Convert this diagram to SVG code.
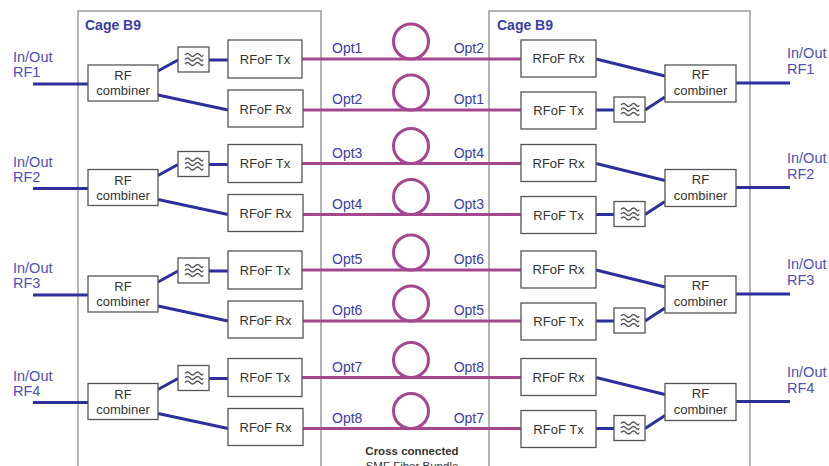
<svg xmlns="http://www.w3.org/2000/svg" xmlns:xlink="http://www.w3.org/1999/xlink" width="829" height="466" viewBox="0 0 829 466">
<style>
.cage{fill:#fff;stroke:#9a9a9a;stroke-width:1.5}
.box{fill:#fff;stroke:#555;stroke-width:1.3}
.t{font-family:"Liberation Sans",Arial,sans-serif;font-size:13px;fill:#333;text-anchor:middle}
.cg{font-family:"Liberation Sans",Arial,sans-serif;font-size:14px;font-weight:bold;fill:#3c3ca6}
.io{font-family:"Liberation Sans",Arial,sans-serif;font-size:14.5px;fill:#4f4fb5}
.opt{font-family:"Liberation Sans",Arial,sans-serif;font-size:14px;fill:#3c3ca6}
.optr{font-family:"Liberation Sans",Arial,sans-serif;font-size:14px;fill:#3c3ca6;text-anchor:end}
.rf{stroke:#2e2e9c;stroke-width:3;fill:none}
.fib{stroke:#a4478e;stroke-width:3;fill:none}
.loop{stroke:#a4478e;stroke-width:3;fill:none}
.wave{stroke:#555;stroke-width:1.3;fill:none}
.note{font-family:"Liberation Sans",Arial,sans-serif;font-size:11.5px;font-weight:bold;fill:#333;text-anchor:middle}
.note2{font-family:"Liberation Sans",Arial,sans-serif;font-size:11.5px;fill:#333;text-anchor:middle}
</style>
<defs>
<g id="filt">
<rect class="box" x="0" y="0" width="31" height="25"/>
<path class="wave" d="M7,8 q2.5,-3 5,0 t5,0 t5,0 t3,0"/>
<path class="wave" d="M7,12.5 q2.5,-3 5,0 t5,0 t5,0 t3,0"/>
<path class="wave" d="M7,17 q2.5,-3 5,0 t5,0 t5,0 t3,0"/>
</g>
</defs>
<rect width="829" height="466" fill="#fff"/>
<g id="cage-left"><rect class="cage" x="78" y="11" width="243" height="470"/><text class="cg" x="85" y="30">Cage B9</text></g>
<g id="cage-right"><rect class="cage" x="489" y="11" width="261" height="470"/><text class="cg" x="497" y="30">Cage B9</text></g>

<g id="connectors">
<g transform="translate(0,0)">
<path class="rf" d="M33,84H88 M158,71L178,60 M209,60H228 M158,95L228,110 M596,59L665,76 M596,110H614 M645,110L665,97 M736,83H790"/>
<path class="fib" d="M302,59H521 M303,110H521"/>
<circle class="loop" cx="411" cy="41.5" r="17.5"/><circle class="loop" cx="411" cy="92.5" r="17.5"/>
</g>
<g transform="translate(0,104.5)">
<path class="rf" d="M33,84H88 M158,71L178,60 M209,60H228 M158,95L228,110 M596,59L665,76 M596,110H614 M645,110L665,97 M736,83H790"/>
<path class="fib" d="M302,59H521 M303,110H521"/>
<circle class="loop" cx="411" cy="41.5" r="17.5"/><circle class="loop" cx="411" cy="92.5" r="17.5"/>
</g>
<g transform="translate(0,211)">
<path class="rf" d="M33,84H88 M158,71L178,60 M209,60H228 M158,95L228,110 M596,59L665,76 M596,110H614 M645,110L665,97 M736,83H790"/>
<path class="fib" d="M302,59H521 M303,110H521"/>
<circle class="loop" cx="411" cy="41.5" r="17.5"/><circle class="loop" cx="411" cy="92.5" r="17.5"/>
</g>
<g transform="translate(0,318.5)">
<path class="rf" d="M33,84H88 M158,71L178,60 M209,60H228 M158,95L228,110 M596,59L665,76 M596,110H614 M645,110L665,97 M736,83H790"/>
<path class="fib" d="M302,59H521 M303,110H521"/>
<circle class="loop" cx="411" cy="41.5" r="17.5"/><circle class="loop" cx="411" cy="92.5" r="17.5"/>
</g>
</g>

<g id="row1">
<g id="io-left-1"><text class="io" x="13" y="62">In/Out</text><text class="io" x="13" y="77">RF1</text></g>
<g id="comb-left-1"><rect class="box" x="88" y="65" width="70" height="36"/><text class="t" x="123" y="80">RF</text><text class="t" x="123" y="95">combiner</text></g>
<g id="filt-left-1"><use xlink:href="#filt" x="178" y="47"/></g>
<g id="tx-left-1"><rect class="box" x="228" y="40" width="74" height="38"/><text class="t" x="265" y="63.5">RFoF Tx</text></g>
<g id="rx-left-1"><rect class="box" x="228" y="90" width="75" height="37"/><text class="t" x="265.5" y="113.5">RFoF Rx</text></g>
<g id="opt-1"><text class="opt" x="332" y="53">Opt1</text><text class="optr" x="484" y="53">Opt2</text><text class="opt" x="332" y="104">Opt2</text><text class="optr" x="484" y="104">Opt1</text></g>
<g id="rx-right-1"><rect class="box" x="521" y="40" width="75" height="37"/><text class="t" x="558.5" y="63">RFoF Rx</text></g>
<g id="tx-right-1"><rect class="box" x="521" y="92" width="75" height="37"/><text class="t" x="558.5" y="115">RFoF Tx</text></g>
<g id="filt-right-1"><use xlink:href="#filt" x="614" y="97"/></g>
<g id="comb-right-1"><rect class="box" x="665" y="65" width="71" height="37"/><text class="t" x="700.5" y="79">RF</text><text class="t" x="700.5" y="95">combiner</text></g>
<g id="io-right-1"><text class="io" x="787" y="58">In/Out</text><text class="io" x="787" y="74">RF1</text></g>
</g>

<g id="row2" transform="translate(0,104.5)">
<g id="io-left-2"><text class="io" x="13" y="62">In/Out</text><text class="io" x="13" y="77">RF2</text></g>
<g id="comb-left-2"><rect class="box" x="88" y="65" width="70" height="36"/><text class="t" x="123" y="80">RF</text><text class="t" x="123" y="95">combiner</text></g>
<g id="filt-left-2"><use xlink:href="#filt" x="178" y="47"/></g>
<g id="tx-left-2"><rect class="box" x="228" y="40" width="74" height="38"/><text class="t" x="265" y="63.5">RFoF Tx</text></g>
<g id="rx-left-2"><rect class="box" x="228" y="90" width="75" height="37"/><text class="t" x="265.5" y="113.5">RFoF Rx</text></g>
<g id="opt-2"><text class="opt" x="332" y="53">Opt3</text><text class="optr" x="484" y="53">Opt4</text><text class="opt" x="332" y="104">Opt4</text><text class="optr" x="484" y="104">Opt3</text></g>
<g id="rx-right-2"><rect class="box" x="521" y="40" width="75" height="37"/><text class="t" x="558.5" y="63">RFoF Rx</text></g>
<g id="tx-right-2"><rect class="box" x="521" y="92" width="75" height="37"/><text class="t" x="558.5" y="115">RFoF Tx</text></g>
<g id="filt-right-2"><use xlink:href="#filt" x="614" y="97"/></g>
<g id="comb-right-2"><rect class="box" x="665" y="65" width="71" height="37"/><text class="t" x="700.5" y="79">RF</text><text class="t" x="700.5" y="95">combiner</text></g>
<g id="io-right-2"><text class="io" x="787" y="58">In/Out</text><text class="io" x="787" y="74">RF2</text></g>
</g>

<g id="row3" transform="translate(0,211)">
<g id="io-left-3"><text class="io" x="13" y="62">In/Out</text><text class="io" x="13" y="77">RF3</text></g>
<g id="comb-left-3"><rect class="box" x="88" y="65" width="70" height="36"/><text class="t" x="123" y="80">RF</text><text class="t" x="123" y="95">combiner</text></g>
<g id="filt-left-3"><use xlink:href="#filt" x="178" y="47"/></g>
<g id="tx-left-3"><rect class="box" x="228" y="40" width="74" height="38"/><text class="t" x="265" y="63.5">RFoF Tx</text></g>
<g id="rx-left-3"><rect class="box" x="228" y="90" width="75" height="37"/><text class="t" x="265.5" y="113.5">RFoF Rx</text></g>
<g id="opt-3"><text class="opt" x="332" y="53">Opt5</text><text class="optr" x="484" y="53">Opt6</text><text class="opt" x="332" y="104">Opt6</text><text class="optr" x="484" y="104">Opt5</text></g>
<g id="rx-right-3"><rect class="box" x="521" y="40" width="75" height="37"/><text class="t" x="558.5" y="63">RFoF Rx</text></g>
<g id="tx-right-3"><rect class="box" x="521" y="92" width="75" height="37"/><text class="t" x="558.5" y="115">RFoF Tx</text></g>
<g id="filt-right-3"><use xlink:href="#filt" x="614" y="97"/></g>
<g id="comb-right-3"><rect class="box" x="665" y="65" width="71" height="37"/><text class="t" x="700.5" y="79">RF</text><text class="t" x="700.5" y="95">combiner</text></g>
<g id="io-right-3"><text class="io" x="787" y="58">In/Out</text><text class="io" x="787" y="74">RF3</text></g>
</g>

<g id="row4" transform="translate(0,318.5)">
<g id="io-left-4"><text class="io" x="13" y="62">In/Out</text><text class="io" x="13" y="77">RF4</text></g>
<g id="comb-left-4"><rect class="box" x="88" y="65" width="70" height="36"/><text class="t" x="123" y="80">RF</text><text class="t" x="123" y="95">combiner</text></g>
<g id="filt-left-4"><use xlink:href="#filt" x="178" y="47"/></g>
<g id="tx-left-4"><rect class="box" x="228" y="40" width="74" height="38"/><text class="t" x="265" y="63.5">RFoF Tx</text></g>
<g id="rx-left-4"><rect class="box" x="228" y="90" width="75" height="37"/><text class="t" x="265.5" y="113.5">RFoF Rx</text></g>
<g id="opt-4"><text class="opt" x="332" y="53">Opt7</text><text class="optr" x="484" y="53">Opt8</text><text class="opt" x="332" y="104">Opt8</text><text class="optr" x="484" y="104">Opt7</text></g>
<g id="rx-right-4"><rect class="box" x="521" y="40" width="75" height="37"/><text class="t" x="558.5" y="63">RFoF Rx</text></g>
<g id="tx-right-4"><rect class="box" x="521" y="92" width="75" height="37"/><text class="t" x="558.5" y="115">RFoF Tx</text></g>
<g id="filt-right-4"><use xlink:href="#filt" x="614" y="97"/></g>
<g id="comb-right-4"><rect class="box" x="665" y="65" width="71" height="37"/><text class="t" x="700.5" y="79">RF</text><text class="t" x="700.5" y="95">combiner</text></g>
<g id="io-right-4"><text class="io" x="787" y="58">In/Out</text><text class="io" x="787" y="74">RF4</text></g>
</g>

<g id="bundle-note"><text class="note" x="412" y="455">Cross connected</text><text class="note2" x="412" y="470">SMF Fiber Bundle</text></g>
</svg>
